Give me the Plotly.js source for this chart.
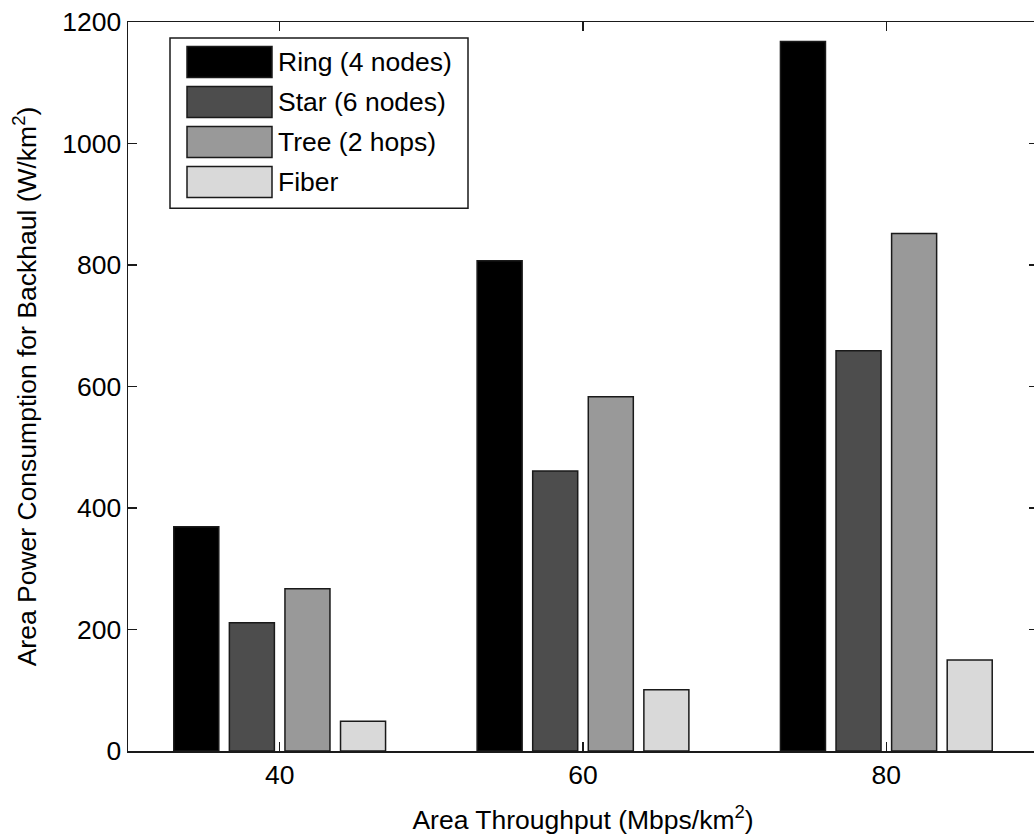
<!DOCTYPE html>
<html>
<head>
<meta charset="utf-8">
<script src="https://cdn.plot.ly/plotly-3.0.1.min.js"></script>
<style>
html, body { margin: 0; padding: 0; overflow: hidden; background: #fff; width: 1034px; height: 835px; }
#chart { width: 1044px; height: 835px; }
</style>
</head>
<body>
<div id="chart"></div>
<script>
// Data
const categories = [40, 60, 80];
const seriesNames = ["Ring (4 nodes)", "Star (6 nodes)", "Tree (2 hops)", "Fiber"];
const ringValues = [369, 807, 1168];
const starValues = [211, 461, 659];
const treeValues = [267, 583, 852];
const fiberValues = [49, 101, 150];
const seriesColors = ["#000000", "#4d4d4d", "#999999", "#d9d9d9"];
const yTickValues = [0, 200, 400, 600, 800, 1000, 1200];

const allValues = [ringValues, starValues, treeValues, fiberValues];
const FONT = "Liberation Sans, Arial, Helvetica, sans-serif";
const FS = 26.5;

const traces = allValues.map((vals, i) => ({
  type: "bar",
  x: categories,
  y: vals,
  name: seriesNames[i],
  marker: { color: seriesColors[i], line: { color: "#1a1a1a", width: 1.5 } },
  showlegend: false,
  hoverinfo: "x+y+name"
}));

// plot-area geometry (pixels) for a custom MATLAB-like legend
const L = 128, T = 21.5, W = 910, H = 729.5;
const dx = px => (px - L) / W;
const dy = py => 1 - (py - T) / H;

const shapes = [{
  type: "rect", xref: "x domain", yref: "y domain",
  x0: dx(170), x1: dx(468), y0: dy(208), y1: dy(37.5),
  line: { color: "#1a1a1a", width: 1.5 }, fillcolor: "#ffffff", layer: "above"
}];
const annotations = [];
seriesNames.forEach((nm, i) => {
  const top = 46 + i * 40;
  shapes.push({
    type: "rect", xref: "x domain", yref: "y domain",
    x0: dx(187), x1: dx(272), y0: dy(top + 31), y1: dy(top),
    line: { color: "#1a1a1a", width: 1.5 }, fillcolor: seriesColors[i], layer: "above"
  });
  annotations.push({
    xref: "x domain", yref: "y domain", x: dx(276), y: dy(top + 15.5),
    xanchor: "left", yanchor: "middle", showarrow: false,
    text: nm, font: { family: FONT, size: FS, color: "#000" }
  });
});

const layout = {
  width: 1044, height: 835,
  margin: { l: L, r: 1044 - L - W, t: T, b: 835 - T - H, pad: 0 },
  paper_bgcolor: "#ffffff", plot_bgcolor: "#ffffff",
  barmode: "group",
  bargap: 0.267,
  bargroupgap: 0.19,
  font: { family: FONT, size: FS, color: "#000" },
  xaxis: {
    range: [30, 90],
    tickvals: categories,
    ticktext: categories.map(String),
    ticks: "inside", ticklen: 9, tickwidth: 1.5, tickcolor: "#1a1a1a",
    showline: true, linecolor: "#1a1a1a", linewidth: 1.5, mirror: "allticks",
    showgrid: false, zeroline: false,
    tickfont: { family: FONT, size: FS, color: "#000" },
    title: { text: "Area Throughput (Mbps/km<sup>2</sup>)", font: { family: FONT, size: FS, color: "#000" }, standoff: 22 }
  },
  yaxis: {
    range: [0, 1200],
    tickvals: yTickValues,
    ticks: "inside", ticklen: 9, tickwidth: 1.5, tickcolor: "#1a1a1a",
    showline: true, linecolor: "#1a1a1a", linewidth: 1.5, mirror: "allticks",
    showgrid: false, zeroline: false,
    tickfont: { family: FONT, size: FS, color: "#000" },
    title: { text: "Area Power Consumption for Backhaul (W/km<sup>2</sup>)", font: { family: FONT, size: FS, color: "#000" }, standoff: 18 }
  },
  shapes: shapes,
  annotations: annotations
};

Plotly.newPlot("chart", traces, layout, { displayModeBar: false, staticPlot: true });
</script>
</body>
</html>
